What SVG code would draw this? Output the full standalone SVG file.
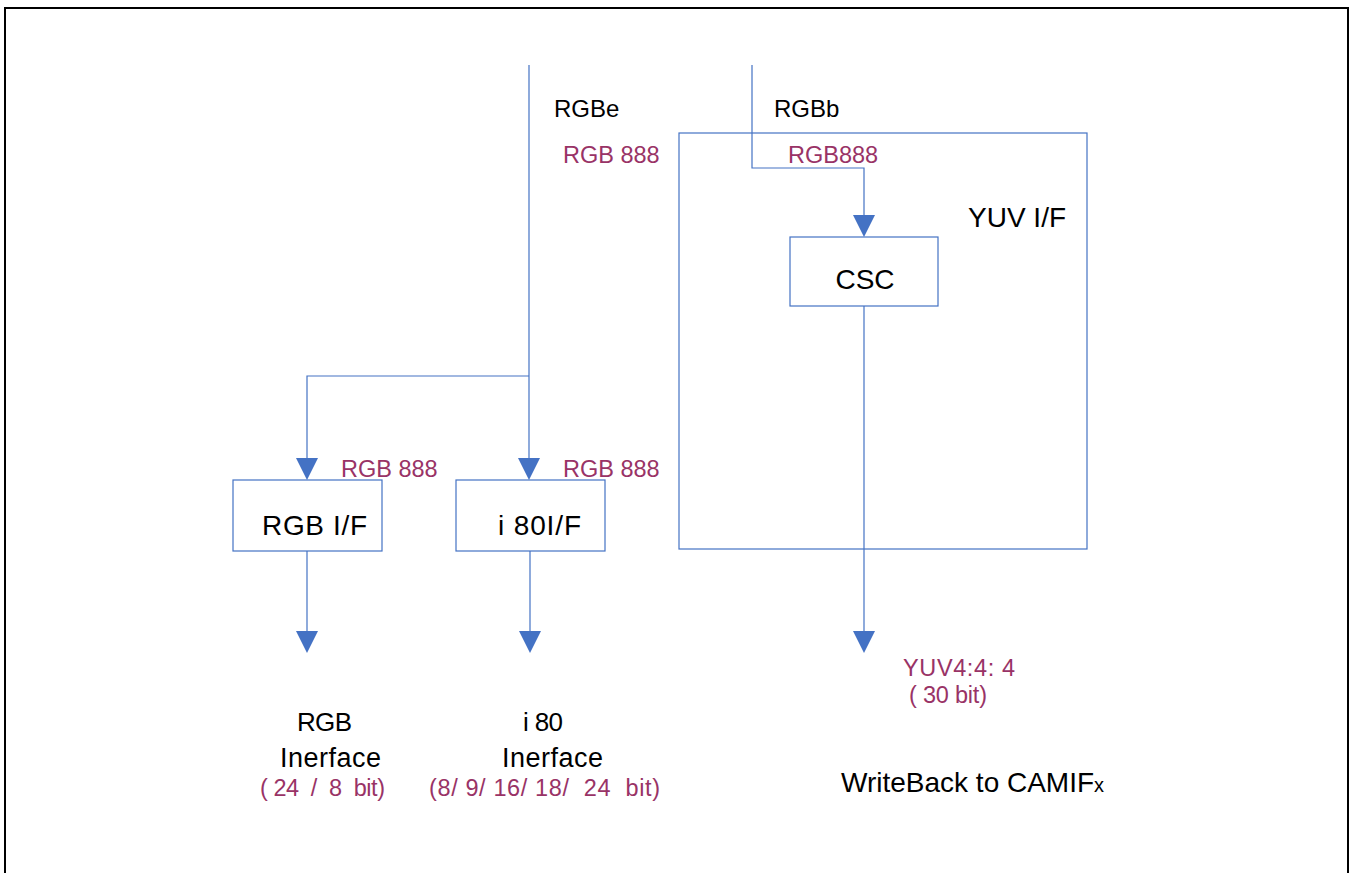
<svg xmlns="http://www.w3.org/2000/svg" width="1354" height="873" viewBox="0 0 1354 873">
<style>
.ln{fill:none;stroke:#4472C4;stroke-width:1.2}
.bx{fill:#fff;stroke:#4472C4;stroke-width:1.2}
.t{font-family:"Liberation Sans",Arial,sans-serif;fill:#000}
.m{font-family:"Liberation Sans",Arial,sans-serif;fill:#993366;font-size:23.5px}
.ah{fill:#4472C4}
</style>
<rect x="0" y="0" width="1354" height="873" fill="#fff"/>
<path d="M5,880 V8 H1348 V880" fill="none" stroke="#000" stroke-width="2"/>
<g id="yuvif">
<rect class="bx" x="679" y="133" width="408" height="416"/>
<text class="t" x="968" y="227" font-size="28">YUV I/F</text>
</g>
<g id="connectors">
<path class="ln" d="M529,65 V460"/>
<path class="ln" d="M529,376 H307 V460"/>
<path class="ln" d="M752,65 V168 H864 V216"/>
<path class="ln" d="M864,306 V633"/>
<path class="ln" d="M307,551 V633"/>
<path class="ln" d="M530,551 V633"/>
<polygon class="ah" points="296,458 318,458 307,480"/>
<polygon class="ah" points="518,458 540,458 529,480"/>
<polygon class="ah" points="853,215 875,215 864,237"/>
<polygon class="ah" points="296,631 318,631 307,653"/>
<polygon class="ah" points="519,631 541,631 530,653"/>
<polygon class="ah" points="853,631 875,631 864,653"/>
</g>
<g id="csc">
<rect class="bx" x="790" y="237" width="148" height="69"/>
<text class="t" x="865" y="289" font-size="28" text-anchor="middle">CSC</text>
</g>
<g id="rgbif">
<rect class="bx" x="233" y="480" width="149" height="71"/>
<text class="t" x="262" y="535" font-size="28" textLength="105">RGB I/F</text>
</g>
<g id="i80if">
<rect class="bx" x="456" y="480" width="149" height="71"/>
<text class="t" x="498" y="535" font-size="28" textLength="83">i 80I/F</text>
</g>
<g id="labels">
<text class="t" x="554" y="117" font-size="24">RGBe</text>
<text class="t" x="774" y="117" font-size="24">RGBb</text>
<text class="m" x="563" y="163">RGB 888</text>
<text class="m" x="788" y="163">RGB888</text>
<text class="m" x="341" y="477">RGB 888</text>
<text class="m" x="563" y="477">RGB 888</text>
<text class="t" x="297" y="731" font-size="26" textLength="55">RGB</text>
<text class="t" x="280" y="767" font-size="27" textLength="101">Inerface</text>
<text class="m" x="260" y="796" xml:space="preserve" textLength="125">( 24  /  8  bit)</text>
<text class="t" x="523" y="731" font-size="26" textLength="40">i 80</text>
<text class="t" x="502" y="767" font-size="27" textLength="101">Inerface</text>
<text class="m" x="429" y="796" xml:space="preserve" textLength="231">(8/ 9/ 16/ 18/  24  bit)</text>
<text class="m" x="903" y="676" xml:space="preserve" textLength="112">YUV4:4: 4</text>
<text class="m" x="909" y="703" xml:space="preserve" textLength="78">( 30 bit)</text>
<text class="t" x="841" y="792" font-size="28">WriteBack to CAMIF<tspan font-size="20">x</tspan></text>
</g>
</svg>
